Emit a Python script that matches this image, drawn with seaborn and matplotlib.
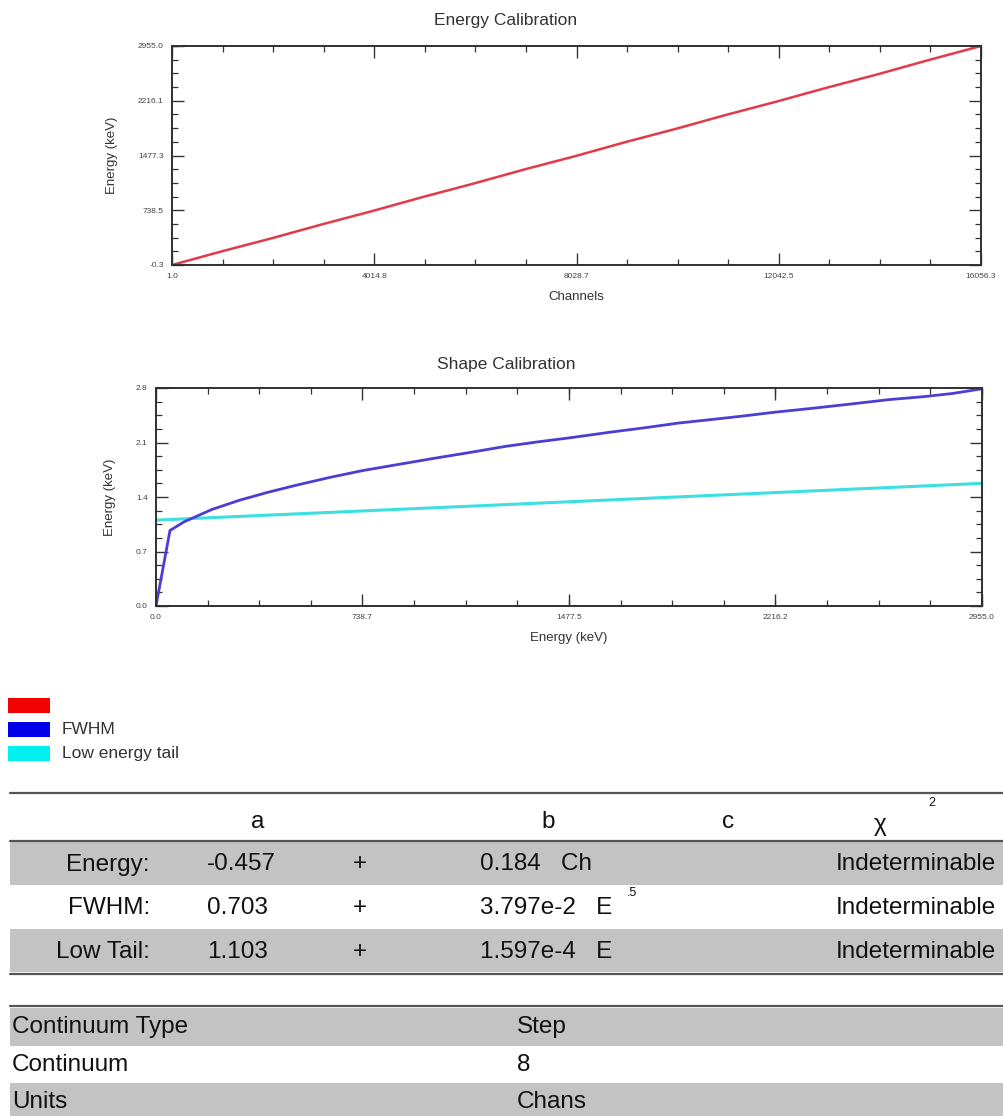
import numpy as np
import pandas as pd
import matplotlib
matplotlib.use("Agg")
import matplotlib.pyplot as plt
from matplotlib.ticker import AutoMinorLocator, FixedLocator
from matplotlib.patches import Rectangle
import seaborn as sns

# ---------------- data ----------------
# Energy calibration: channel -> energy (keV)
channels = [1.0, 1000, 2000, 3000, 4000, 5000, 6000, 7000, 8000,
            9000, 10000, 11000, 12000, 13000, 14000, 15000, 16056.3]
energy_kev = [-0.3, 186.0, 364.0, 552.0, 732.0, 921.0, 1101.0, 1290.0, 1468.0,
              1658.0, 1837.0, 2026.0, 2205.0, 2393.0, 2572.0, 2762.0, 2955.0]

# Shape calibration: FWHM and low energy tail vs energy (keV)
fwhm_energy = [0.0, 50, 100, 200, 300, 400, 500, 620, 740, 870, 1000, 1120,
               1250, 1370, 1480, 1620, 1750, 1870, 2000, 2100, 2216, 2350,
               2500, 2620, 2750, 2850, 2955]
fwhm_kev = [0.0, 0.97, 1.08, 1.24, 1.36, 1.46, 1.55, 1.65, 1.74, 1.82, 1.90,
            1.97, 2.05, 2.11, 2.16, 2.23, 2.29, 2.35, 2.40, 2.44, 2.49, 2.54,
            2.60, 2.65, 2.69, 2.73, 2.79]
tail_energy = [0.0, 740, 1480, 2216, 2955]
tail_kev = [1.103, 1.221, 1.339, 1.457, 1.575]

energy_xticks = [1.0, 4014.8, 8028.7, 12042.5, 16056.3]
energy_yticks = [-0.3, 738.5, 1477.3, 2216.1, 2955.0]
shape_xticks = [0.0, 738.7, 1477.5, 2216.2, 2955.0]
shape_yticks = [0.0, 0.7, 1.4, 2.1, 2.8]

legend_labels = ["", "FWHM", "Low energy tail"]
legend_colors = ["#f20000", "#0000e8", "#00f0f0"]

table_cols = ["a", "b", "c"]
row_names = ["Energy:", "FWHM:", "Low Tail:"]
coef_a = ["-0.457", "0.703", "1.103"]
coef_b = ["0.184   Ch", "3.797e-2   E", "1.597e-4   E"]
coef_b_exp = ["", ".5", ""]
chi_sq = ["Indeterminable", "Indeterminable", "Indeterminable"]

cont_keys = ["Continuum Type", "Continuum", "Units"]
cont_vals = ["Step", "8", "Chans"]

# ---------------- style ----------------
sns.set_style("ticks")
plt.rcParams["font.family"] = ["Liberation Sans", "DejaVu Sans"]

W, H = 1004, 1116
DPI = 100
fig = plt.figure(figsize=(W / DPI, H / DPI), dpi=DPI)
fig.patch.set_facecolor("white")


def px_axes(left, top, right, bottom):
    return fig.add_axes([left / W, 1 - bottom / H, (right - left) / W, (bottom - top) / H])


def style_axes(ax, xticks, yticks):
    ax.set_xlim(xticks[0], xticks[-1])
    ax.set_ylim(yticks[0], yticks[-1])
    ax.xaxis.set_major_locator(FixedLocator(xticks))
    ax.yaxis.set_major_locator(FixedLocator(yticks))
    ax.xaxis.set_minor_locator(AutoMinorLocator(4))
    ax.yaxis.set_minor_locator(AutoMinorLocator(4))
    ax.set_xticklabels([f"{v:.1f}" for v in xticks])
    ax.set_yticklabels([f"{v:.1f}" for v in yticks])
    ax.tick_params(which="both", direction="in", top=True, right=True,
                   color="#333333", labelsize=6, labelcolor="#444444")
    ax.tick_params(which="major", length=8.5, width=1.0, pad=6)
    ax.tick_params(which="minor", length=4.3, width=0.9)
    for sp in ax.spines.values():
        sp.set_linewidth(1.4)
        sp.set_color("#303030")
        sp.set_visible(True)
    ax.set_facecolor("white")
    ax.grid(False)


label_kw = dict(fontsize=9.5, color="#333333")

# ---------------- Energy calibration ----------------
ax1 = px_axes(172, 46, 981, 265)
df_e = pd.DataFrame({"Channels": channels, "Energy": energy_kev})
sns.lineplot(data=df_e, x="Channels", y="Energy", ax=ax1, color="#e23a48",
             linewidth=1.8, sort=False)
style_axes(ax1, energy_xticks, energy_yticks)
ax1.set_xlabel("Channels", labelpad=8, **label_kw)
ax1.set_ylabel("Energy (keV)", labelpad=14, **label_kw)
fig.text(506 / W, 1 - 20 / H, "Energy Calibration", ha="center", va="center",
         fontsize=12.5, color="#333333")

# ---------------- Shape calibration ----------------
ax2 = px_axes(156, 388, 982, 606)
df_f = pd.DataFrame({"Energy": fwhm_energy, "Value": fwhm_kev})
df_t = pd.DataFrame({"Energy": tail_energy, "Value": tail_kev})
sns.lineplot(data=df_t, x="Energy", y="Value", ax=ax2, color="#3ce0e0",
             linewidth=2.2, sort=False)
sns.lineplot(data=df_f, x="Energy", y="Value", ax=ax2, color="#4a3ed6",
             linewidth=2.0, sort=False)
style_axes(ax2, shape_xticks, shape_yticks)
ax2.set_xlabel("Energy (keV)", labelpad=8, **label_kw)
ax2.set_ylabel("Energy (keV)", labelpad=14, **label_kw)
fig.text(506 / W, 1 - 365 / H, "Shape Calibration", ha="center", va="center",
         fontsize=12.5, color="#333333")

# ---------------- legend + tables (pixel canvas) ----------------
canvas = fig.add_axes([0, 0, 1, 1], zorder=-1)
canvas.set_xlim(0, W)
canvas.set_ylim(H, 0)
canvas.axis("off")

for i, (lab, col) in enumerate(zip(legend_labels, legend_colors)):
    y0 = 698 + i * 24
    canvas.add_patch(Rectangle((8, y0), 42, 15, facecolor=col, edgecolor="none"))
    if lab:
        canvas.text(62, y0 + 7.5, lab, ha="left", va="center", fontsize=12.5,
                    color="#333333")

band = "#c3c3c3"
rule = "#555555"
txt = dict(fontsize=17.5, color="#111111", va="center")

# coefficient table
canvas.plot([10, W], [793, 793], color=rule, lw=1.6)
for name, x in zip(table_cols, [258, 548, 728]):
    canvas.text(x, 822, name, ha="center", **txt)
canvas.text(880, 825, "\u03c7", ha="center", **txt)
canvas.text(932, 803, "2", ha="center", va="center", fontsize=9, color="#111111")
canvas.plot([10, W], [841, 841], color=rule, lw=1.6)

row_tops = [842, 886, 929]
row_h = [43, 43, 43]
for i in range(len(row_names)):
    top = row_tops[i]
    if i % 2 == 0:
        canvas.add_patch(Rectangle((10, top), W - 10, row_h[i], facecolor=band,
                                   edgecolor="none"))
    yc = top + row_h[i] / 2 + 1
    canvas.text(150, yc, row_names[i], ha="right", **txt)
    canvas.text(207, yc, coef_a[i], ha="left", **txt)
    canvas.text(360, yc, "+", ha="center", **txt)
    canvas.text(480, yc, coef_b[i], ha="left", **txt)
    if coef_b_exp[i]:
        canvas.text(632, yc - 16, coef_b_exp[i], ha="center", va="center",
                    fontsize=9, color="#111111")
    canvas.text(836, yc, chi_sq[i], ha="left", **txt)
canvas.plot([10, W], [974, 974], color=rule, lw=1.6)

# continuum table
canvas.plot([10, W], [1006, 1006], color=rule, lw=1.6)
cont_tops = [1008, 1046, 1083]
for i in range(len(cont_keys)):
    top = cont_tops[i]
    h = 38 if i < 2 else H - top
    if i % 2 == 0:
        canvas.add_patch(Rectangle((10, top), W - 10, h, facecolor=band,
                                   edgecolor="none"))
    yc = top + 19
    canvas.text(12, yc, cont_keys[i], ha="left", **txt)
    canvas.text(517, yc, cont_vals[i], ha="left", **txt)

fig.savefig("out.png", dpi=DPI, facecolor="white")
